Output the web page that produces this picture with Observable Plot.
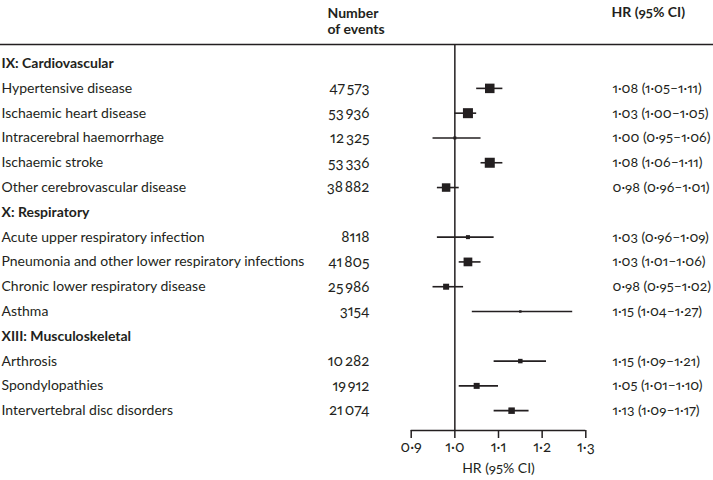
<!DOCTYPE html>
<html><head><meta charset="utf-8">
<script src="https://cdn.jsdelivr.net/npm/d3@7"></script>
<script src="https://cdn.jsdelivr.net/npm/@observablehq/plot@0.6"></script>
<style>body{margin:0;background:#fff} svg text{font-variant-numeric: oldstyle-nums proportional-nums;}</style>
</head><body><div id="chart"></div>
<script>
const categories = [
  "IX: Cardiovascular",
  "Hypertensive disease",
  "Ischaemic heart disease",
  "Intracerebral haemorrhage",
  "Ischaemic stroke",
  "Other cerebrovascular disease",
  "X: Respiratory",
  "Acute upper respiratory infection",
  "Pneumonia and other lower respiratory infections",
  "Chronic lower respiratory disease",
  "Asthma",
  "XIII: Musculoskeletal",
  "Arthrosis",
  "Spondylopathies",
  "Intervertebral disc disorders"
];
const isGroup = [true,false,false,false,false,false,true,false,false,false,false,true,false,false,false];
const events = [null,47573,53936,12325,53336,38882,null,8118,41805,25986,3154,null,10282,19912,21074];
const hr = [null,1.08,1.03,1.00,1.08,0.98,null,1.03,1.03,0.98,1.15,null,1.15,1.05,1.13];
const lo = [null,1.05,1.00,0.95,1.06,0.96,null,0.96,1.01,0.95,1.04,null,1.09,1.01,1.09];
const hi = [null,1.11,1.05,1.06,1.11,1.01,null,1.09,1.06,1.02,1.27,null,1.21,1.10,1.17];
// relative weight of each estimate (visual estimate of square area)
const weight = [null,9.0,10.0,0.9,10.0,7.2,null,1.6,7.6,3.6,0.6,null,2.0,3.6,4.2];
const xTicks = [0.9,1.0,1.1,1.2,1.3];
const headerEvents = "Number\nof events";
const headerHR = "HR (95% CI)";
const axisLabel = "HR (95% CI)";

const rows = categories.map((c, i) => ({i, c, group: isGroup[i], events: events[i], hr: hr[i], lo: lo[i], hi: hi[i], w: weight[i]}));
const items = rows.filter(d => !d.group);
const groups = rows.filter(d => d.group);
const dec = v => v.toFixed(2).replace(".", "\u00b7");
const fmtN = n => n >= 10000 ? String(n).replace(/(\d+)(\d{3})$/, "$1\u2009$2") : String(n);
const ink = "#231f20";
const yTop = -0.77, yBottom = 14.8;
const fs = 14;
const numFs = 15;

const chart = Plot.plot({
  width: 713, height: 480,
  marginTop: 44, marginBottom: 50, marginLeft: 0, marginRight: 0,
  style: {fontFamily: "Lato, 'Open Sans', sans-serif", fontSize: fs + "px", color: ink, background: "#fff"},
  x: {domain: [0.9, 1.3], range: [410.7, 585.3]},
  y: {domain: [yTop, yBottom], range: [44, 430], axis: null},
  r: {type: "sqrt", domain: [0, 10], range: [0, 5.65]},
  marks: [
    Plot.ruleY([yTop], {stroke: ink, strokeWidth: 1.6}),
    Plot.ruleX([1], {stroke: ink, strokeWidth: 1.5}),
    Plot.ruleY([yBottom], {x1: 0.9, x2: 1.3, stroke: ink, strokeWidth: 1.5}),
    Plot.axisX({ticks: xTicks, tickSize: 8, tickPadding: 3, stroke: ink, strokeWidth: 1.5, fill: ink, fontSize: numFs,
      tickFormat: d => d.toFixed(1).replace(".", "\u00b7"), label: null}),
    Plot.text([axisLabel], {x: d3.mean(d3.extent(xTicks)), frameAnchor: "bottom", dy: 42, fill: ink, fontSize: fs}),
    Plot.ruleY(items, {y: "i", x1: "lo", x2: "hi", stroke: ink, strokeWidth: 1.6}),
    Plot.dot(items, {x: "hr", y: "i", r: "w", symbol: "square", fill: ink, stroke: "none"}),
    Plot.text(items, {y: "i", text: "c", frameAnchor: "left", dx: 1, textAnchor: "start", fill: ink}),
    Plot.text(groups, {y: "i", text: "c", frameAnchor: "left", dx: 1, textAnchor: "start", fill: ink, fontWeight: 700}),
    Plot.text(items, {y: "i", text: d => fmtN(d.events), frameAnchor: "left", dx: 369, textAnchor: "end", fill: ink, fontSize: numFs}),
    Plot.text(items, {y: "i", text: d => `${dec(d.hr)} (${dec(d.lo)}\u2013${dec(d.hi)})`, frameAnchor: "left", dx: 612, textAnchor: "start", fill: ink, fontSize: 14}),
    Plot.text([headerEvents], {y: -1.73, frameAnchor: "left", dx: 327, textAnchor: "start", lineHeight: 1.2, fill: ink, fontWeight: 700}),
    Plot.text([headerHR], {y: -2.06, frameAnchor: "left", dx: 611, textAnchor: "start", fill: ink, fontWeight: 700})
  ]
});
document.getElementById("chart").append(chart);
</script>
</body></html>
